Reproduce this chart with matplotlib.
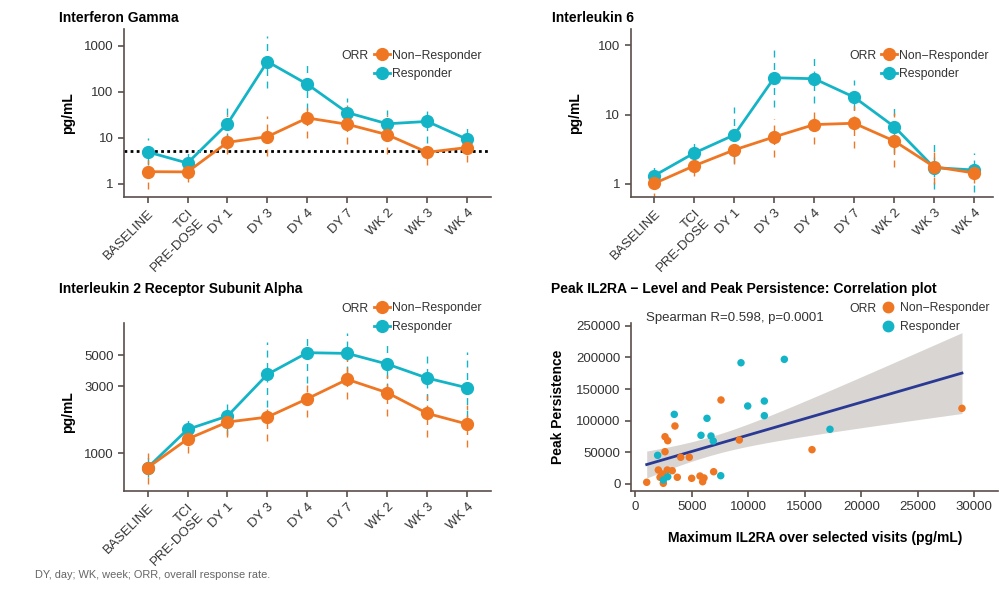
import numpy as np
import matplotlib
matplotlib.use("Agg")
import matplotlib.pyplot as plt
from matplotlib.lines import Line2D

plt.rcParams['font.family'] = ['Liberation Sans', 'DejaVu Sans']
plt.rcParams['axes.unicode_minus'] = True

# ---------------------------------------------------------------------
# Data
# ---------------------------------------------------------------------
VISITS = ["BASELINE", "TCI\nPRE-DOSE", "DY 1", "DY 3", "DY 4", "DY 7", "WK 2", "WK 3", "WK 4"]

# Interferon gamma (pg/mL): median with dashed interval
ifng_resp = [4.9, 2.8, 20, 450, 145, 35, 20, 22.5, 9.2]
ifng_resp_lo = [2.5, 1.7, 8.9, 118, 40, 17, 9, 7.5, 5.9]
ifng_resp_hi = [9.7, 5.0, 56, 1650, 390, 72, 40, 46, 17]
ifng_non = [1.82, 1.8, 7.9, 10.5, 26.8, 19.5, 11.6, 4.8, 6.1]
ifng_non_lo = [0.75, 1.1, 4.3, 3.9, 10, 7.2, 4.3, 2.5, 2.9]
ifng_non_hi = [3.3, 2.5, 31, 30, 43, 51, 31, 8.9, 8.9]
ifng_lloq = 5.2

# Interleukin 6 (pg/mL)
il6_resp = [1.31, 2.78, 5.07, 34, 32.9, 17.8, 6.7, 1.71, 1.58]
il6_resp_lo = [0.9, 2.0, 2.0, 13, 14.6, 11.7, 2.75, 0.83, 0.77]
il6_resp_hi = [2.0, 4.3, 12.8, 90, 71, 31.8, 14.6, 3.7, 2.75]
il6_non = [1.01, 1.82, 3.08, 4.75, 7.16, 7.48, 4.15, 1.76, 1.43]
il6_non_lo = [0.58, 1.3, 1.9, 2.46, 3.76, 3.25, 1.73, 1.0, 1.03]
il6_non_hi = [1.2, 2.5, 4.3, 8.65, 11.7, 13.4, 10.5, 3.08, 2.1]

# Interleukin 2 receptor subunit alpha (pg/mL)
il2ra_resp = [790, 1483, 1846, 3660, 5225, 5165, 4335, 3445, 2937]
il2ra_resp_lo = [682, 1245, 1351, 2152, 3160, 3720, 2830, 1929, 1826]
il2ra_resp_hi = [1000, 1876, 2249, 6255, 7180, 7180, 6430, 5085, 5310]
il2ra_non = [790, 1265, 1673, 1816, 2454, 3371, 2709, 1929, 1619]
il2ra_non_lo = [604, 1011, 1315, 1231, 1826, 2427, 1846, 1315, 1104]
il2ra_non_hi = [1000, 1467, 2000, 2200, 3335, 4760, 3620, 2607, 2213]

# Peak IL2RA vs peak persistence, per patient
resp_max_il2ra = [9355, 13190, 9950, 11420, 11420, 3450, 6345, 5815, 6700, 6900,
                  17230, 1980, 7560, 2870, 2480]
resp_persist = [191500, 196900, 123200, 131000, 107900, 110000, 103700, 76900, 75800, 67900,
                86400, 45300, 13100, 11500, 6300]
non_max_il2ra = [1010, 2480, 2040, 2830, 3270, 2390, 2190, 3720, 4990, 5725, 6080, 5960,
                 6935, 2630, 4020, 4780, 2630, 2870, 3510, 9205, 7585, 15640, 28910]
non_persist = [2700, 1100, 22100, 22100, 21000, 15800, 10600, 10600, 9000, 12600, 9500, 3600,
               19400, 51000, 42200, 42200, 74700, 68400, 91600, 69500, 132700, 54200, 119500]
spearman_text = "Spearman R=0.598, p=0.0001"

# ---------------------------------------------------------------------
# Styling
# ---------------------------------------------------------------------
ORANGE = '#EF7622'
TEAL = '#14B4C7'
SPINE = '#5a4f4b'
TEXT = '#333333'
FS = 9.5
LEG_FS = 8.8

W, H = 999, 594
fig = plt.figure(figsize=(W / 100, H / 100), dpi=100)


def px_axes(left, top, right, bottom):
    return fig.add_axes([left / W, 1 - bottom / H, (right - left) / W, (bottom - top) / H])


def style_axes(ax):
    for s in ['top', 'right']:
        ax.spines[s].set_visible(False)
    for s in ['left', 'bottom']:
        ax.spines[s].set_color(SPINE)
        ax.spines[s].set_linewidth(1.2)
    ax.tick_params(colors=SPINE, labelcolor=TEXT, labelsize=FS, length=4, width=1.2)


def timecourse(ax, resp, resp_lo, resp_hi, non, non_lo, non_hi, xlim):
    x = np.arange(len(VISITS))
    handles = []
    for med, lo, hi, col in [(resp, resp_lo, resp_hi, TEAL), (non, non_lo, non_hi, ORANGE)]:
        med = np.array(med)
        err = [med - np.array(lo), np.array(hi) - med]
        eb = ax.errorbar(x, med, yerr=err, color=col, lw=2, marker='o', ms=8.5,
                         mec=col, elinewidth=1, capsize=0)
        eb[2][0].set_linestyle((0, (5, 4)))
        handles.append(eb)
    ax.set_yscale('log')
    ax.set_xlim(*xlim)
    ax.set_xticks(x)
    ax.set_xticklabels(VISITS, rotation=45, ha='right', rotation_mode='anchor')
    ax.minorticks_off()
    ax.set_ylabel('pg/mL', fontsize=FS + 0.5, fontweight='bold')
    style_axes(ax)
    return handles


def orr_label(x, y):
    fig.text(x / W, 1 - (y + 5) / H, 'ORR', ha='right', va='baseline',
             fontsize=LEG_FS, color=TEXT)


def line_legend(ax, handles, orr_x, orr_y, leg_x):
    # ORR key title sits to the left of the first entry
    orr_label(orr_x, orr_y)
    leg = fig.legend([handles[1], handles[0]], ['Non\u2212Responder', 'Responder'],
                     loc='upper left', bbox_to_anchor=(leg_x / W, 1 - (orr_y - 4.5) / H),
                     frameon=False, fontsize=LEG_FS, handlelength=1.3, handletextpad=0.15,
                     borderpad=0, borderaxespad=0, labelspacing=0.55)
    for t in leg.get_texts():
        t.set_color(TEXT)


def fmt_plain(v, _pos):
    return f"{v:g}"


# Interferon gamma
ax1 = px_axes(124, 29, 490.7, 196.7)
h1 = timecourse(ax1, ifng_resp, ifng_resp_lo, ifng_resp_hi,
                ifng_non, ifng_non_lo, ifng_non_hi, (-0.59, 8.59))
ax1.axhline(ifng_lloq, color='black', ls=(0, (1, 1.2)), lw=2, zorder=1)
ax1.set_ylim(0.52, 2300)
ax1.set_yticks([1, 10, 100, 1000])
ax1.set_yticklabels(['1', '10', '100', '1000'])
ax1.yaxis.set_label_coords(-0.134, 0.5)
fig.text(59 / W, 1 - 18 / H, 'Interferon Gamma', fontsize=FS + 0.5, fontweight='bold', va='center')
line_legend(ax1, h1, 368, 54, 374)

# Interleukin 6
ax2 = px_axes(630.7, 29, 993.3, 196.7)
h2 = timecourse(ax2, il6_resp, il6_resp_lo, il6_resp_hi,
                il6_non, il6_non_lo, il6_non_hi, (-0.59, 8.48))
ax2.set_ylim(0.65, 172)
ax2.set_yticks([1, 10, 100])
ax2.set_yticklabels(['1', '10', '100'])
ax2.yaxis.set_label_coords(-0.135, 0.5)
fig.text(552 / W, 1 - 18 / H, 'Interleukin 6', fontsize=FS + 0.5, fontweight='bold', va='center')
line_legend(ax2, h2, 876, 54, 881)

# Interleukin 2 receptor subunit alpha
ax3 = px_axes(124, 322.7, 490.7, 490.7)
h3 = timecourse(ax3, il2ra_resp, il2ra_resp_lo, il2ra_resp_hi,
                il2ra_non, il2ra_non_lo, il2ra_non_hi, (-0.59, 8.59))
ax3.set_ylim(542, 8550)
ax3.set_yticks([1000, 3000, 5000])
ax3.set_yticklabels(['1000', '3000', '5000'])
ax3.yaxis.set_label_coords(-0.134, 0.47)
fig.text(59 / W, 1 - 289 / H, 'Interleukin 2 Receptor Subunit Alpha', fontsize=FS + 0.5,
         fontweight='bold', va='center')
line_legend(ax3, h3, 368, 307, 374)

# Correlation of peak IL2RA and peak persistence
ax4 = px_axes(631, 323, 998, 490.7)
ax4.scatter(non_max_il2ra, non_persist, s=29, color=ORANGE, edgecolors='none', zorder=3)
ax4.scatter(resp_max_il2ra, resp_persist, s=29, color=TEAL, edgecolors='none', zorder=3)

# ordinary least-squares fit with 95% confidence band on all patients
all_x = np.array(non_max_il2ra + resp_max_il2ra, dtype=float)
all_y = np.array(non_persist + resp_persist, dtype=float)
n = len(all_x)
slope, intercept = np.polyfit(all_x, all_y, 1)
grid = np.linspace(all_x.min(), all_x.max(), 100)
fit = intercept + slope * grid
resid = all_y - (intercept + slope * all_x)
s_err = np.sqrt(np.sum(resid ** 2) / (n - 2))
t_crit = 2.028  # t quantile, 0.975, df = 36
se_fit = s_err * np.sqrt(1 / n + (grid - all_x.mean()) ** 2 / np.sum((all_x - all_x.mean()) ** 2))
ax4.fill_between(grid, fit - t_crit * se_fit, fit + t_crit * se_fit, color='#D9D5D2', lw=0, zorder=1)
ax4.plot(grid, fit, color='#2A3A94', lw=2, zorder=2)

ax4.set_xlim(-380, 32100)
ax4.set_ylim(-10600, 254300)
ax4.set_xticks([0, 5000, 10000, 15000, 20000, 25000, 30000])
ax4.set_yticks([0, 50000, 100000, 150000, 200000, 250000])
ax4.xaxis.set_major_formatter(plt.FuncFormatter(fmt_plain))
ax4.yaxis.set_major_formatter(plt.FuncFormatter(fmt_plain))
style_axes(ax4)
ax4.set_xlabel('Maximum IL2RA over selected visits (pg/mL)', fontsize=FS + 0.5, fontweight='bold')
ax4.set_ylabel('Peak Persistence', fontsize=FS + 0.5, fontweight='bold')
ax4.xaxis.set_label_coords(0.501, -0.243)
ax4.yaxis.set_label_coords(-0.181, 0.5)
ax4.text(0.04, 1.03, spearman_text, transform=ax4.transAxes, fontsize=FS, color=TEXT,
         ha='left', va='center')
fig.text(551 / W, 1 - 289 / H, 'Peak IL2RA \u2212 Level and Peak Persistence: Correlation plot',
         fontsize=FS + 0.5, fontweight='bold', va='center')
orr_label(877, 307)
dot_handles = [Line2D([], [], ls='none', marker='o', ms=7.5, color=ORANGE),
               Line2D([], [], ls='none', marker='o', ms=7.5, color=TEAL)]
leg4 = fig.legend(dot_handles, ['Non\u2212Responder', 'Responder'], loc='upper left',
                  bbox_to_anchor=(882 / W, 1 - 302.5 / H), frameon=False, fontsize=LEG_FS,
                  handlelength=1.0, handletextpad=0.5, borderpad=0, borderaxespad=0,
                  labelspacing=0.55)
for t in leg4.get_texts():
    t.set_color(TEXT)

fig.text(35 / W, 1 - 575 / H, 'DY, day; WK, week; ORR, overall response rate.',
         fontsize=7.9, color='#666666', va='center')

fig.savefig('out.png', dpi=100)
